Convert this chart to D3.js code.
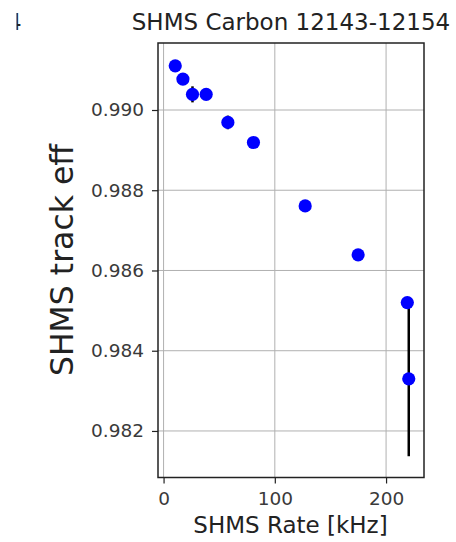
<!DOCTYPE html>
<html>
<head>
<meta charset="utf-8">
<script src="https://cdn.jsdelivr.net/npm/d3@7"></script>
<style>
    body { margin: 0; background: #fff; }
    text { font-family: "DejaVu Sans", sans-serif; }
</style>
</head>
<body>
<div id="chart"></div>
<script>
// data
const rates = [10.5, 17.4, 26.0, 38.3, 57.8, 80.8, 127.3, 174.9, 219.1, 220.4];
const effs = [0.99110, 0.99077, 0.99039, 0.99039, 0.98969, 0.98919, 0.98761, 0.98639, 0.98520, 0.98330];
const errs = [0.0001, 0.0001, 0.0002, 0.0001, 0.00017, 0.0001, 0.0001, 0.0001, 0.0001, 0.00193];
const xTicks = [0, 100, 200];
const yTicks = [0.982, 0.984, 0.986, 0.988, 0.990];

const title = 'SHMS Carbon 12143-12154';
const xLabel = 'SHMS Rate [kHz]';
const yLabel = 'SHMS track eff';

const W = 456, H = 542;
const box = { left: 158, right: 424, top: 43, bottom: 477.5 };

const svg = d3.select('#chart').append('svg')
    .attr('width', W)
    .attr('height', H);

svg.append('rect').attr('width', W).attr('height', H).attr('fill', '#fff');

const x = d3.scaleLinear().domain([-5.0, 234.1]).range([box.left, box.right]);
const y = d3.scaleLinear().domain([0.98084, 0.99167]).range([box.bottom, box.top]);

// grid
const grid = svg.append('g').attr('stroke', '#b0b0b0').attr('stroke-width', 1);
grid.selectAll('line.gx').data(xTicks).join('line')
    .attr('x1', d => x(d)).attr('x2', d => x(d))
    .attr('y1', box.top).attr('y2', box.bottom);
grid.selectAll('line.gy').data(yTicks).join('line')
    .attr('y1', d => y(d)).attr('y2', d => y(d))
    .attr('x1', box.left).attr('x2', box.right);

// axes
const xAxis = d3.axisBottom(x).tickValues(xTicks).tickSize(6).tickPadding(8)
    .tickFormat(d3.format('d'));
const yAxis = d3.axisLeft(y).tickValues(yTicks).tickSize(6).tickPadding(8)
    .tickFormat(d3.format('.3f'));

const gx = svg.append('g').attr('transform', `translate(0,${box.bottom})`).call(xAxis);
const gy = svg.append('g').attr('transform', `translate(${box.left},0)`).call(yAxis);
[gx, gy].forEach(g => {
    g.select('.domain').remove();
    g.selectAll('.tick line').attr('stroke', '#222').attr('stroke-width', 1.2);
    g.selectAll('.tick text')
        .attr('fill', '#3a3a3a')
        .style('font-size', '18.5px');
});

// error bars
svg.append('g').selectAll('line').data(rates).join('line')
    .attr('x1', (d, i) => x(d)).attr('x2', (d, i) => x(d))
    .attr('y1', (d, i) => y(effs[i] - errs[i]))
    .attr('y2', (d, i) => y(effs[i] + errs[i]))
    .attr('stroke', '#000')
    .attr('stroke-width', 2.5);

// points
svg.append('g').selectAll('circle').data(rates).join('circle')
    .attr('cx', d => x(d))
    .attr('cy', (d, i) => y(effs[i]))
    .attr('r', 6.6)
    .attr('fill', '#0000ff');

// frame
svg.append('rect')
    .attr('x', box.left).attr('y', box.top)
    .attr('width', box.right - box.left).attr('height', box.bottom - box.top)
    .attr('fill', 'none').attr('stroke', '#222').attr('stroke-width', 1.5);

// texts
svg.append('text')
    .attr('x', (box.left + box.right) / 2).attr('y', 30)
    .attr('text-anchor', 'middle')
    .attr('fill', '#222')
    .style('font-size', '23px')
    .text(title);

svg.append('text')
    .attr('x', (box.left + box.right) / 2 - 0.5).attr('y', 533)
    .attr('text-anchor', 'middle')
    .attr('fill', '#222')
    .style('font-size', '23px')
    .text(xLabel);

svg.append('text')
    .attr('transform', `translate(73,260) rotate(-90)`)
    .attr('text-anchor', 'middle')
    .attr('fill', '#222')
    .style('font-size', '31.5px')
    .text(yLabel);

// leftover glyph of a neighbouring title, clipped at the image edge
svg.append('clipPath').attr('id', 'cut')
    .append('rect').attr('x', 16.5).attr('y', 0).attr('width', 30).attr('height', 40);
svg.append('text')
    .attr('clip-path', 'url(#cut)')
    .attr('x', 7).attr('y', 30)
    .attr('fill', '#222')
    .style('font-size', '23px')
    .text('4');
</script>
</body>
</html>
